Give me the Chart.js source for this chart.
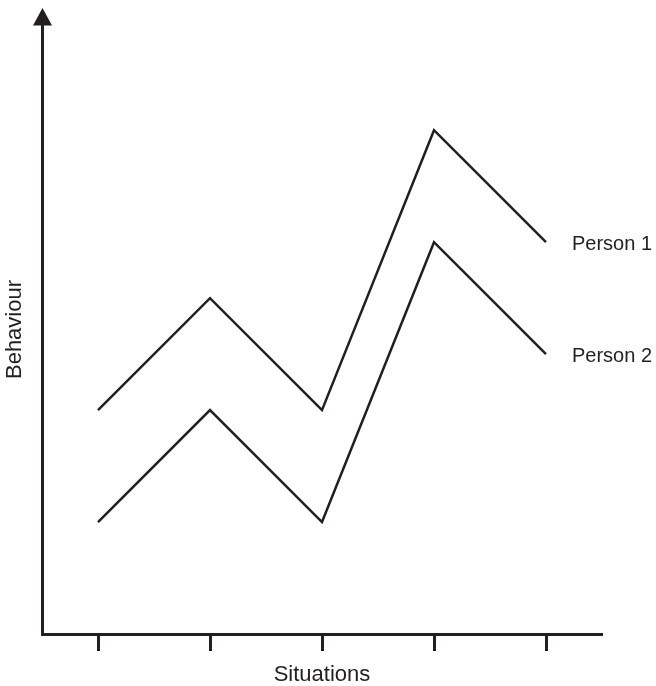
<!DOCTYPE html>
<html>
<head>
<meta charset="utf-8">
<script src="https://cdn.jsdelivr.net/npm/chart.js@4/dist/chart.umd.min.js"></script>
<style>
  html, body { margin: 0; padding: 0; background: #ffffff; }
  #wrap { width: 656px; height: 686px; position: relative; }
</style>
</head>
<body>
<div id="wrap"><canvas id="c" width="656" height="686"></canvas></div>
<script>
// ---- Data ----
const situations = ['Situation 1', 'Situation 2', 'Situation 3', 'Situation 4', 'Situation 5'];
const person1 = [2, 3, 2, 4.5, 3.5];
const person2 = [1, 2, 1, 3.5, 2.5];
const seriesNames = ['Person 1', 'Person 2'];
const xTitle = 'Situations';
const yTitle = 'Behaviour';

const INK = '#231f20';
const FONT = '"Liberation Sans", Arial, Helvetica, sans-serif';

// Arrow head on top of the y axis + end-of-line series labels
const decorations = {
  id: 'decorations',
  afterDraw(chart) {
    const ctx = chart.ctx;
    const area = chart.chartArea;
    const yScale = chart.scales.y;
    const axisX = yScale.right + 0.5;
    ctx.save();
    // arrow head
    ctx.fillStyle = INK;
    ctx.beginPath();
    ctx.moveTo(axisX, area.top - 17);
    ctx.lineTo(axisX - 9.5, area.top + 0.5);
    ctx.lineTo(axisX + 9.5, area.top + 0.5);
    ctx.closePath();
    ctx.fill();
    // series labels at the end of each line
    ctx.font = '20px ' + FONT;
    ctx.fillStyle = INK;
    ctx.textAlign = 'left';
    ctx.textBaseline = 'middle';
    chart.data.datasets.forEach((ds, i) => {
      const meta = chart.getDatasetMeta(i);
      const last = meta.data[meta.data.length - 1];
      ctx.fillText(ds.label, last.x + 26, last.y + 2.5);
    });
    ctx.restore();
  }
};

new Chart(document.getElementById('c'), {
  type: 'line',
  data: {
    labels: situations,
    datasets: [
      { label: seriesNames[0], data: person1, borderColor: INK, borderWidth: 2.5, pointRadius: 0, tension: 0, fill: false },
      { label: seriesNames[1], data: person2, borderColor: INK, borderWidth: 2.5, pointRadius: 0, tension: 0, fill: false }
    ]
  },
  options: {
    responsive: false,
    animation: false,
    layout: { padding: { left: 0, right: 54, top: 25, bottom: 0 } },
    plugins: {
      legend: { display: false },
      tooltip: { enabled: false }
    },
    scales: {
      x: {
        type: 'category',
        offset: true,
        grid: {
          display: true,
          offset: false,
          drawOnChartArea: false,
          drawTicks: true,
          tickLength: 17,
          tickWidth: 3,
          tickColor: INK,
          color: INK
        },
        border: { display: true, width: 3, color: INK },
        ticks: { display: false },
        title: {
          display: true,
          text: xTitle,
          color: INK,
          font: { family: FONT, size: 22, lineHeight: 1 },
          padding: { top: 13, bottom: 0 }
        }
      },
      y: {
        min: 0,
        max: 5.44,
        grid: { display: false, drawTicks: false },
        border: { display: true, width: 3, color: INK },
        ticks: { display: false },
        title: {
          display: true,
          text: yTitle,
          color: INK,
          font: { family: FONT, size: 22, lineHeight: 1 },
          padding: { top: 4, bottom: 16 }
        }
      }
    }
  },
  plugins: [decorations]
});
</script>
</body>
</html>
